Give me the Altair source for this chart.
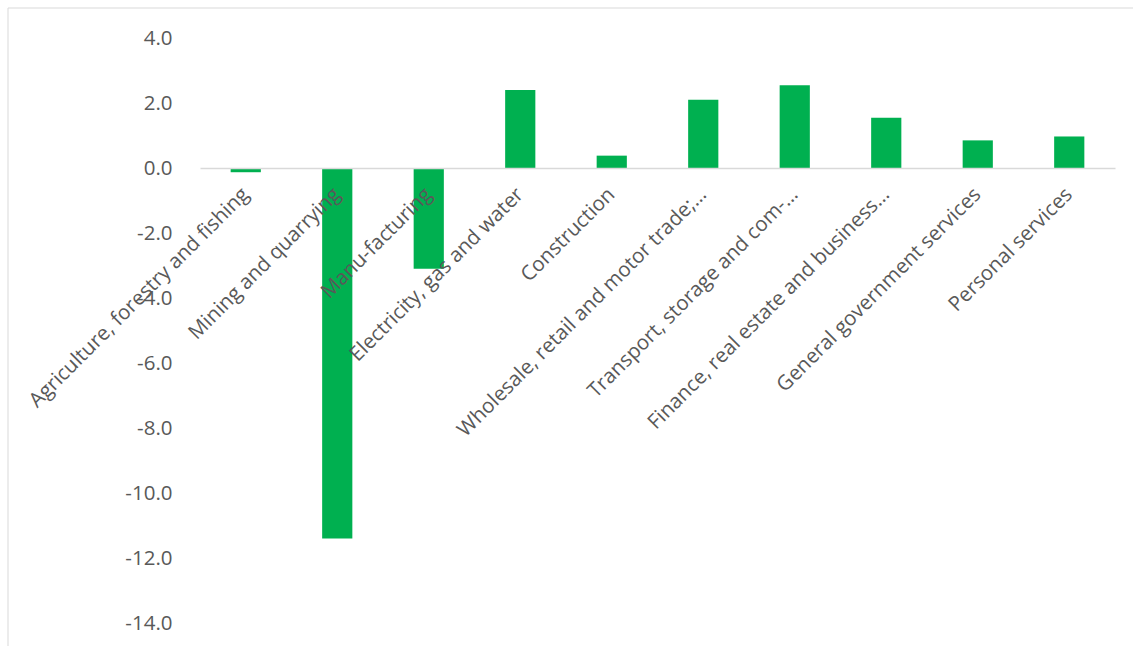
import altair as alt
import pandas as pd

sectors = [
    "Agriculture, forestry and fishing",
    "Mining and quarrying",
    "Manu-facturing",
    "Electricity, gas and water",
    "Construction",
    "Wholesale, retail and motor trade;…",
    "Transport, storage and com-…",
    "Finance, real estate and business…",
    "General government services",
    "Personal services",
]
values = [-0.13, -11.4, -3.1, 2.4, 0.38, 2.1, 2.55, 1.55, 0.85, 0.97]
y_ticks = [-14, -12, -10, -8, -6, -4, -2, 0, 2, 4]

df = pd.DataFrame({"sector": sectors, "value": values})

W, H = 915, 585
FONT = "Open Sans"
TXT = "#595959"

bars = alt.Chart(df).mark_bar(color="#00b050").encode(
    x=alt.X(
        "sector:N",
        sort=None,
        scale=alt.Scale(paddingInner=0.67, paddingOuter=0.335),
        axis=alt.Axis(
            title=None,
            orient="bottom",
            offset=-455,
            zindex=1,
            ticks=False,
            domainColor="#d9d9d9",
            domainWidth=1.5,
            labelAngle=-45,
            labelAlign="right",
            labelBaseline="middle",
            labelPadding=23,
            labelLimit=0,
            labelFont=FONT,
            labelFontSize=20.5,
            labelColor=TXT,
        ),
    ),
    y=alt.Y(
        "value:Q",
        scale=alt.Scale(domain=[-14, 4], nice=False, zero=True),
        axis=alt.Axis(
            title=None,
            values=y_ticks,
            grid=False,
            ticks=False,
            domain=False,
            labelPadding=28,
            labelExpr="replace(format(datum.value, '.1f'), '\u2212', '-')",
            labelFont=FONT,
            labelFontSize=20.5,
            labelColor=TXT,
        ),
    ),
)

frame = alt.Chart(alt.Data(values=[{}])).mark_rect(
    fill=None, stroke="#d9d9d9", strokeWidth=1
).encode(
    x=alt.value(-192), x2=alt.value(945), y=alt.value(-30), y2=alt.value(640)
)

chart = alt.layer(frame, bars).properties(
    width=W,
    height=H,
    padding={"left": 200, "top": 38, "right": 18, "bottom": 23},
    autosize=alt.AutoSizeParams(type="none"),
    background="white",
).configure_view(strokeWidth=0)

chart.save("out.html", embed_options={"renderer": "svg", "actions": False})
